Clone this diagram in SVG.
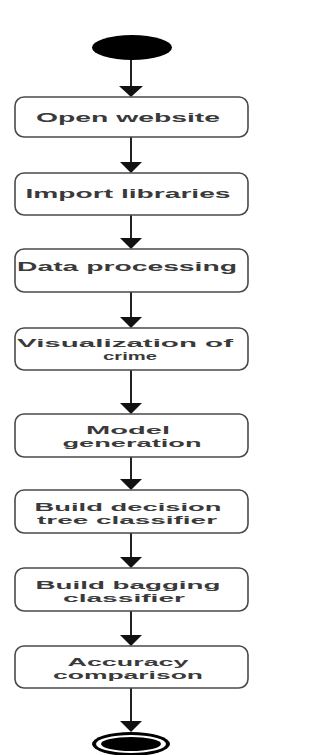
<svg xmlns="http://www.w3.org/2000/svg" width="321" height="755" viewBox="0 0 321 755">
<defs>
<style>
.box{fill:#fff;stroke:#4a4a4a;stroke-width:1.6}
.t{font-family:"Liberation Sans",Arial,sans-serif;font-size:12px;font-weight:bold;fill:#3a3a3a;text-anchor:middle}
.t2{font-size:11px}
.ln{stroke:#222;stroke-width:2;fill:none}
.ah{fill:#111}
</style>
</defs>
<rect width="321" height="755" fill="#fff"/>
<g id="connectors">
<line class="ln" x1="131" y1="59" x2="131" y2="88"/><path class="ah" d="M119,86 L143,86 L131,97 z"/>
<line class="ln" x1="131" y1="137" x2="131" y2="164"/><path class="ah" d="M120,162 L142,162 L131,173 z"/>
<line class="ln" x1="131" y1="215" x2="131" y2="240"/><path class="ah" d="M120,238 L142,238 L131,249 z"/>
<line class="ln" x1="131" y1="292" x2="131" y2="319"/><path class="ah" d="M120,317 L142,317 L131,328 z"/>
<line class="ln" x1="131" y1="370" x2="131" y2="405"/><path class="ah" d="M120,403 L142,403 L131,414 z"/>
<line class="ln" x1="131" y1="457" x2="131" y2="481"/><path class="ah" d="M120,479 L142,479 L131,490 z"/>
<line class="ln" x1="131" y1="533" x2="131" y2="559"/><path class="ah" d="M120,557 L142,557 L131,568 z"/>
<line class="ln" x1="131" y1="611" x2="131" y2="637"/><path class="ah" d="M120,635 L142,635 L131,646 z"/>
<line class="ln" x1="131" y1="688" x2="131" y2="723"/><path class="ah" d="M120,721 L142,721 L131,732 z"/>
</g>
<g id="start"><ellipse cx="132" cy="47.5" rx="40" ry="12.5" fill="#000"/></g>
<g id="n1"><rect class="box" x="15" y="97" width="233" height="40" rx="9"/><text class="t" x="128" y="122" textLength="184" lengthAdjust="spacingAndGlyphs">Open website</text></g>
<g id="n2"><rect class="box" x="15" y="173" width="233" height="42" rx="9"/><text class="t" x="128" y="198" textLength="205" lengthAdjust="spacingAndGlyphs">Import libraries</text></g>
<g id="n3"><rect class="box" x="15" y="249" width="233" height="43" rx="9"/><text class="t" x="127" y="271" textLength="220" lengthAdjust="spacingAndGlyphs">Data processing</text></g>
<g id="n4"><rect class="box" x="15" y="328" width="233" height="42" rx="9"/><text class="t t2" x="125" y="346.5" textLength="216" lengthAdjust="spacingAndGlyphs">Visualization of</text><text class="t t2" x="130" y="359.5" textLength="54" lengthAdjust="spacingAndGlyphs">crime</text></g>
<g id="n5"><rect class="box" x="15" y="414" width="233" height="43" rx="9"/><text class="t t2" x="128" y="433.5" textLength="84" lengthAdjust="spacingAndGlyphs">Model</text><text class="t t2" x="132" y="446.5" textLength="139" lengthAdjust="spacingAndGlyphs">generation</text></g>
<g id="n6"><rect class="box" x="15" y="490" width="233" height="43" rx="9"/><text class="t t2" x="128" y="510.5" textLength="187" lengthAdjust="spacingAndGlyphs">Build decision</text><text class="t t2" x="127" y="523.5" textLength="180" lengthAdjust="spacingAndGlyphs">tree classifier</text></g>
<g id="n7"><rect class="box" x="15" y="568" width="233" height="43" rx="9"/><text class="t t2" x="128" y="588.5" textLength="185" lengthAdjust="spacingAndGlyphs">Build bagging</text><text class="t t2" x="124" y="601.5" textLength="122" lengthAdjust="spacingAndGlyphs">classifier</text></g>
<g id="n8"><rect class="box" x="15" y="646" width="233" height="42" rx="9"/><text class="t t2" x="128" y="665.5" textLength="121" lengthAdjust="spacingAndGlyphs">Accuracy</text><text class="t t2" x="128" y="678.5" textLength="150" lengthAdjust="spacingAndGlyphs">comparison</text></g>
<g id="end"><ellipse cx="131" cy="744" rx="39" ry="12" fill="#000"/><ellipse cx="131" cy="744" rx="35" ry="9" fill="#fff"/><ellipse cx="131" cy="744" rx="30" ry="7" fill="#000"/></g>
</svg>
